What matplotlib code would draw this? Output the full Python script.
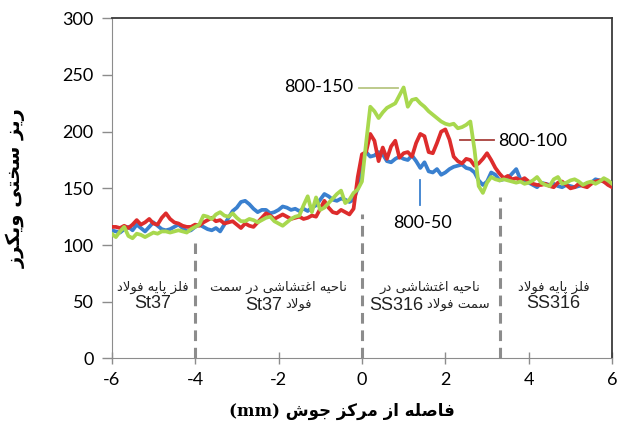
import re
import numpy as np
import matplotlib
matplotlib.use("Agg")
import matplotlib.pyplot as plt
from matplotlib.transforms import offset_copy

# Data (step 0.1 mm)
distance = np.round(np.arange(-6.0, 6.01, 0.1), 1)

hv_800_50 = [113, 112, 111, 114, 116, 113, 118, 115, 112, 116,
             120, 117, 114, 113, 114, 116, 118, 115, 112, 113,
             116, 118, 116, 114, 113, 115, 112, 118, 124, 130,
             133, 138, 139, 136, 132, 129, 131, 131, 128, 129,
             131, 134, 133, 131, 132, 130, 132, 130, 133, 135,
             140, 145, 143, 140, 139, 141, 140, 138, 140, 150,
             176, 182, 178, 179, 182, 180, 174, 173, 176, 178,
             176, 175, 179, 174, 168, 173, 165, 164, 167, 162,
             164, 167, 169, 170, 171, 168, 167, 164, 157, 153,
             156, 164, 162, 157, 158, 159, 163, 167, 158, 156,
             155, 153, 151, 155, 154, 153, 154, 152, 151, 153,
             152, 151, 152, 153, 154, 155, 158, 157, 156, 154,
             152]

hv_800_100 = [116, 116, 115, 117, 115, 118, 122, 118, 120, 123,
              119, 118, 124, 128, 123, 120, 119, 117, 116, 116,
              118, 117, 120, 122, 124, 121, 122, 119, 120, 121,
              118, 115, 119, 117, 116, 120, 124, 128, 126, 123,
              125, 127, 125, 123, 124, 125, 123, 124, 126, 125,
              132, 139, 133, 129, 128, 131, 129, 127, 132, 160,
              180, 182, 198, 192, 174, 186, 176, 187, 192, 177,
              181, 182, 178, 190, 198, 196, 182, 181, 190, 200,
              202, 193, 178, 174, 172, 176, 175, 170, 172, 176,
              181, 175, 168, 163, 159, 161, 158, 159, 157, 159,
              156, 154, 153, 153, 154, 152, 151, 155, 156, 153,
              150, 151, 154, 152, 151, 154, 156, 157, 156, 153,
              151]

hv_800_150 = [110, 107, 112, 116, 108, 106, 110, 109, 107, 109,
              111, 110, 112, 112, 111, 112, 113, 112, 111, 114,
              116, 118, 126, 125, 123, 127, 129, 126, 125, 128,
              124, 121, 121, 123, 122, 120, 122, 124, 125, 121,
              119, 117, 120, 123, 125, 126, 135, 143, 129, 142,
              131, 133, 137, 141, 145, 148, 137, 140, 146, 149,
              156, 190, 222, 218, 212, 217, 221, 223, 225, 232,
              239, 222, 228, 229, 225, 222, 218, 215, 212, 209,
              207, 206, 207, 203, 204, 206, 209, 184, 152, 146,
              155, 160, 158, 157, 158, 157, 156, 155, 156, 154,
              155, 157, 160, 155, 153, 152, 158, 160, 154, 155,
              157, 158, 156, 153, 155, 156, 154, 156, 159, 157,
              154]

series_names = ["800-50", "800-100", "800-150"]
series_colors = ["#3a80cf", "#dd2c2c", "#a8d84e"]

zone_bounds = [-4, 0, 3.3]
zone_tops = [102, 127, 142]

zone_centers = [-5.02, -2.0, 1.62, 4.6]
zone_line1 = ["فلز پایه فولاد", "ناحیه اغتشاشی در سمت", "ناحیه اغتشاشی در", "فلز پایه فولاد"]
zone_steel = ["St37", "St37", "SS316", "SS316"]
zone_line2_fa = ["", "فولاد", "سمت فولاد", ""]

ylabel_text = "ریز سختی ویکرز"
xlabel_text = "فاصله از مرکز جوش (mm)"


# matplotlib 3.10 has no Arabic shaping: pick contextual forms by hand
FORMS = {'ا': (0xFE8D, False), 'ت': (0xFE95, True), 'ج': (0xFE9D, True),
         'ح': (0xFEA1, True), 'خ': (0xFEA5, True), 'د': (0xFEA9, False),
         'ر': (0xFEAD, False), 'ز': (0xFEAF, False), 'س': (0xFEB1, True),
         'ش': (0xFEB5, True), 'ص': (0xFEB9, True), 'غ': (0xFECD, True),
         'ف': (0xFED1, True), 'ل': (0xFEDD, True), 'م': (0xFEE1, True),
         'ن': (0xFEE5, True), 'ه': (0xFEE9, True), 'و': (0xFEED, False),
         'پ': (0xFB56, True), 'ک': (0xFB8E, True), 'ی': (0xFBFC, True)}


def fa(text):
    out = []
    i = 0
    while i < len(text):
        c = text[i]
        if c not in FORMS:
            out.append(c)
            i += 1
            continue
        prev = text[i - 1] if i > 0 else None
        join_prev = prev in FORMS and FORMS[prev][1]
        if c == 'ل' and i + 1 < len(text) and text[i + 1] == 'ا':
            out.append('\uFEFC' if join_prev else '\uFEFB')
            i += 2
            continue
        nxt = text[i + 1] if i + 1 < len(text) else None
        join_next = FORMS[c][1] and nxt in FORMS
        out.append(chr(FORMS[c][0] + int(join_prev) + 2 * int(join_next)))
        i += 1
    visual = "".join(out)[::-1]
    return re.sub(r"[A-Za-z0-9()]+", lambda m: m.group(0)[::-1], visual)


plt.rcParams['font.family'] = ['Lato', 'DejaVu Sans']
plt.rcParams['axes.unicode_minus'] = False

fig = plt.figure(figsize=(6.24, 4.36), dpi=100)
ax = fig.add_axes([0.179, 0.178, 0.802, 0.780])

for vals, col in zip([hv_800_50, hv_800_100, hv_800_150], series_colors):
    ax.plot(distance, vals, color=col, lw=2.7, solid_joinstyle='round', zorder=3)

for xb, top in zip(zone_bounds, zone_tops):
    ax.plot([xb, xb], [0, top], color='#8c8c8c', lw=2.2, ls=(0, (3.5, 2.2)), zorder=2)

fa_props = dict(fontsize=9.5, family=['DejaVu Sans'], color='#222222')
latin_props = dict(fontsize=13, family=['Liberation Sans', 'DejaVu Sans'], color='#222222')
pairs = []
for xc, l1, steel, l2 in zip(zone_centers, zone_line1, zone_steel, zone_line2_fa):
    ax.text(xc, 63, fa(l1), ha='center', va='center', **fa_props)
    if not l2:
        ax.text(xc, 48, steel, ha='center', va='center', **latin_props)
        continue
    # mixed line: steel grade on the left, Persian words on the right
    t_lat = ax.text(xc, 42.5, steel, ha='right', va='baseline', **latin_props)
    t_fa = ax.text(xc, 45, fa(l2), ha='left', va='baseline', **fa_props)
    pairs.append((t_lat, t_fa))

fig.canvas.draw()
renderer = fig.canvas.get_renderer()
gap = 4
for t_lat, t_fa in pairs:
    wl = t_lat.get_window_extent(renderer).width
    wa = t_fa.get_window_extent(renderer).width
    dx = wl - (wl + gap + wa) / 2
    t_lat.set_transform(offset_copy(ax.transData, fig=fig, x=dx, y=0, units='dots'))
    t_fa.set_transform(offset_copy(ax.transData, fig=fig, x=dx + gap, y=0, units='dots'))

# series labels with leader lines
ax.plot([-0.07, 0.86], [238.5, 238.5], color='#b7c682', lw=1.3)
ax.text(-0.2, 239, series_names[2], ha='right', va='center', fontsize=13)
ax.plot([2.36, 3.16], [192.5, 192.5], color='#a8403c', lw=1.3)
ax.text(3.26, 192, series_names[1], ha='left', va='center', fontsize=13)
ax.plot([1.40, 1.40], [135, 157], color='#3a80cf', lw=1.3)
ax.text(1.46, 119, series_names[0], ha='center', va='center', fontsize=13)

ax.set_xlim(-6, 6)
ax.set_ylim(0, 300)
ax.set_xticks(np.arange(-6, 7, 2))
ax.set_yticks(np.arange(0, 301, 50))
ax.tick_params(axis='y', direction='out', length=7, width=1, color='#8c8c8c',
               labelsize=13, pad=6)
ax.tick_params(axis='x', direction='inout', length=8, width=1, color='#8c8c8c',
               labelsize=13, pad=6)

for side in ['left', 'bottom']:
    ax.spines[side].set_color('#8c8c8c')
for side in ['top', 'right']:
    ax.spines[side].set_color('#3a3a3a')
    ax.spines[side].set_linewidth(1.3)

ax.set_ylabel(fa(ylabel_text), fontsize=14, fontweight='bold',
              family=['DejaVu Sans'])
ax.yaxis.set_label_coords(-0.172, 0.5)
ax.set_xlabel(fa(xlabel_text), fontsize=12, fontweight='bold',
              family=['DejaVu Serif', 'DejaVu Sans'])
ax.xaxis.set_label_coords(0.46, -0.155)
ax.xaxis.label.set_va('center')

fig.savefig("out.png", dpi=100)
